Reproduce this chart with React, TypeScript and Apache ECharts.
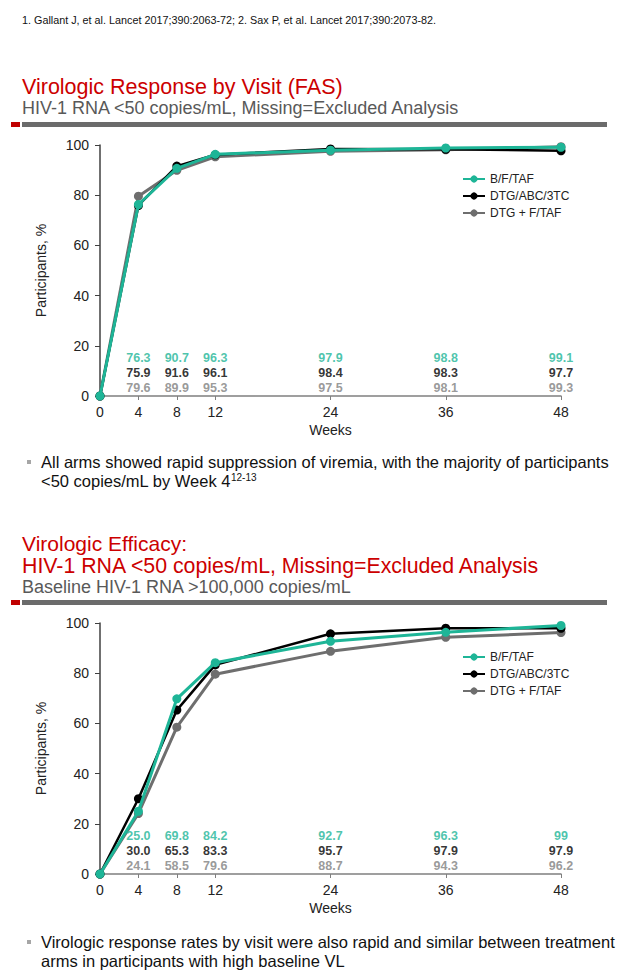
import React, { useEffect, useRef } from "react";
import * as echarts from "echarts";

// ---- Data ----
const weeks = [0, 4, 8, 12, 24, 36, 48];
const weekTicks = [0, 4, 8, 12, 24, 36, 48];
const seriesNames = ["B/F/TAF", "DTG/ABC/3TC", "DTG + F/TAF"];

// Chart 1: Virologic Response by Visit (FAS)
const fasBftaf = ["0", "76.3", "90.7", "96.3", "97.9", "98.8", "99.1"];
const fasDtgAbc = ["0", "75.9", "91.6", "96.1", "98.4", "98.3", "97.7"];
const fasDtgFtaf = ["0", "79.6", "89.9", "95.3", "97.5", "98.1", "99.3"];

// Chart 2: Baseline HIV-1 RNA >100,000 copies/mL
const hiBftaf = ["0", "25.0", "69.8", "84.2", "92.7", "96.3", "99"];
const hiDtgAbc = ["0", "30.0", "65.3", "83.3", "95.7", "97.9", "97.9"];
const hiDtgFtaf = ["0", "24.1", "58.5", "79.6", "88.7", "94.3", "96.2"];

const COLORS = ["#1EB597", "#000000", "#6E6E6E"];
const LABEL_COLORS = ["#1EB597", "#000000", "#808080"];
const LABEL_ROWS = [15.1, 9.2, 3.2]; // y positions (in axis units) of the value rows
const RED = "#CC0000";
const SUBGRAY = "#595959";
const FONT = "'Liberation Sans', Arial, sans-serif";

function buildChart(gridIndex: number, sets: string[][]) {
  const series: any[] = [];
  // draw order: gray, black, teal (teal on top)
  [2, 1, 0].forEach((i) => {
    series.push({
      type: "line",
      name: seriesNames[i],
      xAxisIndex: gridIndex,
      yAxisIndex: gridIndex,
      data: weeks.map((w, k) => [w, Number(sets[i][k])]),
      symbol: "circle",
      symbolSize: 9,
      clip: false,
      lineStyle: { color: COLORS[i], width: i === 1 ? 2.5 : 3 },
      itemStyle: { color: COLORS[i] },
      z: 3 + (2 - i),
    });
  });
  [0, 1, 2].forEach((i) => {
    series.push({
      type: "scatter",
      name: "lbl" + gridIndex + "_" + i,
      xAxisIndex: gridIndex,
      yAxisIndex: gridIndex,
      symbolSize: 1,
      itemStyle: { color: "transparent" },
      silent: true,
      data: weeks
        .map((w, k) => ({ value: [w, LABEL_ROWS[i]], name: sets[i][k] }))
        .filter((d) => d.value[0] !== 0),
      label: {
        show: true,
        position: "inside",
        formatter: "{b}",
        color: LABEL_COLORS[i],
        fontFamily: FONT,
        fontWeight: "bold",
        fontSize: 12.5,
      },
      z: 10,
    });
  });
  return series;
}

function xAxisDef(gridIndex: number) {
  return {
    type: "value",
    gridIndex,
    min: 0,
    max: 48,
    interval: 4,
    name: "Weeks",
    nameLocation: "middle",
    nameGap: 27,
    nameTextStyle: { fontFamily: FONT, fontSize: 14, color: "#222" },
    axisLine: { show: true, lineStyle: { color: "#7F7F7F", width: 1.5 } },
    axisTick: { show: true, length: 4, customValues: weekTicks, lineStyle: { color: "#7F7F7F" } },
    axisLabel: {
      customValues: weekTicks,
      margin: 9,
      fontFamily: FONT,
      fontSize: 14,
      color: "#222",
    },
    splitLine: { show: false },
  };
}

function yAxisDef(gridIndex: number) {
  return {
    type: "value",
    gridIndex,
    min: 0,
    max: 100,
    interval: 20,
    name: "Participants, %",
    nameLocation: "middle",
    nameGap: 52,
    nameRotate: 90,
    nameTextStyle: { fontFamily: FONT, fontSize: 14, color: "#222" },
    axisLine: { show: true, lineStyle: { color: "#404040", width: 1.5 } },
    axisTick: { show: true, length: 5, lineStyle: { color: "#404040" } },
    axisLabel: { margin: 11, fontFamily: FONT, fontSize: 14, color: "#222" },
    splitLine: { show: false },
  };
}

function legendDef(top: number) {
  return {
    orient: "vertical",
    left: 462,
    top,
    itemWidth: 22,
    itemHeight: 9,
    itemGap: 3,
    data: seriesNames,
    selectedMode: false,
    textStyle: { fontFamily: FONT, fontSize: 12, color: "#222", lineHeight: 14, padding: [0, 0, 0, 0] },
    padding: 0,
  };
}

function txt(text: string, x: number, y: number, size: number, color: string, extra: any = {}) {
  return {
    type: "text",
    x,
    y,
    style: { text, fontFamily: FONT, fontSize: size, fill: color, verticalAlign: "middle", ...extra },
  };
}

export default function App() {
  const ref = useRef<HTMLDivElement>(null);
  useEffect(() => {
    if (!ref.current) return;
    const chart = echarts.init(ref.current, null, { renderer: "svg" });
    const option: any = {
      animation: false,
      backgroundColor: "#ffffff",
      grid: [
        { left: 100, top: 145, width: 461, height: 251 },
        { left: 100, top: 623, width: 461, height: 251 },
      ],
      xAxis: [xAxisDef(0), xAxisDef(1)],
      yAxis: [yAxisDef(0), yAxisDef(1)],
      legend: [legendDef(172), legendDef(650)],
      series: [
        ...buildChart(0, [fasBftaf, fasDtgAbc, fasDtgFtaf]),
        ...buildChart(1, [hiBftaf, hiDtgAbc, hiDtgFtaf]),
      ],
      graphic: [
        txt("1. Gallant J, et al. Lancet 2017;390:2063-72; 2. Sax P, et al. Lancet 2017;390:2073-82.", 22, 20, 10.8, "#111"),
        txt("Virologic Response by Visit (FAS)", 22, 87, 21.5, RED),
        txt("HIV-1 RNA <50 copies/mL, Missing=Excluded Analysis", 22, 108, 18, SUBGRAY),
        { type: "rect", shape: { x: 11, y: 122, width: 9, height: 5 }, style: { fill: "#C00000" } },
        { type: "rect", shape: { x: 22, y: 122, width: 585, height: 5 }, style: { fill: "#6B6B6B" } },
        { type: "rect", shape: { x: 27, y: 460, width: 4, height: 4 }, style: { fill: "#A6A6A6" } },
        txt("All arms showed rapid suppression of viremia, with the majority of participants", 41, 462, 16.5, "#111"),
        {
          type: "text",
          x: 41,
          y: 481,
          style: {
            text: "{n|<50 copies/mL by Week 4}{s|12-13}",
            fontFamily: FONT,
            verticalAlign: "middle",
            rich: {
              n: { fontFamily: FONT, fontSize: 16.5, fill: "#111", color: "#111" },
              s: { fontFamily: FONT, fontSize: 10, fill: "#111", color: "#111", verticalAlign: "top" },
            },
          },
        },
        txt("Virologic Efficacy:", 22, 543, 21, RED),
        txt("HIV-1 RNA <50 copies/mL, Missing=Excluded Analysis", 22, 566, 21.3, RED),
        txt("Baseline HIV-1 RNA >100,000 copies/mL", 22, 587, 18, SUBGRAY),
        { type: "rect", shape: { x: 11, y: 600, width: 9, height: 5 }, style: { fill: "#C00000" } },
        { type: "rect", shape: { x: 22, y: 600, width: 585, height: 5 }, style: { fill: "#6B6B6B" } },
        { type: "rect", shape: { x: 27, y: 940, width: 4, height: 4 }, style: { fill: "#A6A6A6" } },
        txt("Virologic response rates by visit were also rapid and similar between treatment", 41, 942, 16.5, "#111"),
        txt("arms in participants with high baseline VL", 41, 961, 16.5, "#111"),
      ],
    };
    chart.setOption(option);
    return () => chart.dispose();
  }, []);
  return (
    <div
      ref={ref}
      style={{ position: "fixed", left: 0, top: 0, width: 626, height: 978, background: "#fff" }}
    />
  );
}
